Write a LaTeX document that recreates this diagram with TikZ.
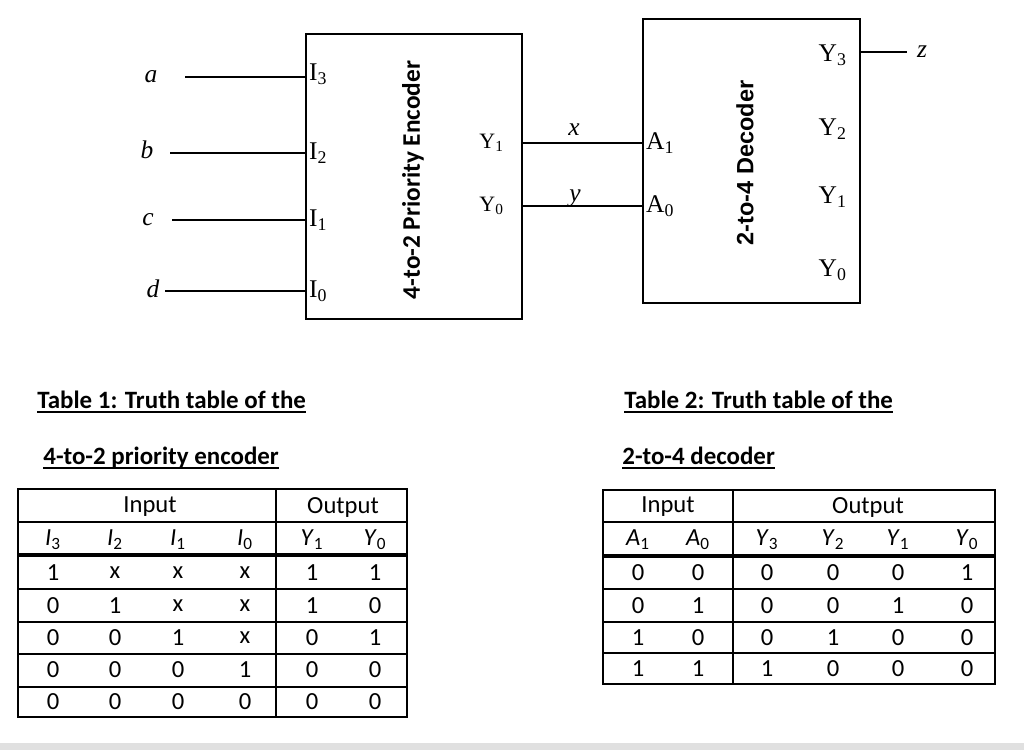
\documentclass[tikz,border=0pt]{standalone}
\usepackage{fontspec}
\setmainfont{Liberation Serif}
\newfontfamily\calibri{Carlito}
\newfontfamily\arialfont{Liberation Sans}
\usepackage{tikz}
\usetikzlibrary{calc}
\usetikzlibrary{positioning}
\definecolor{stripgray}{RGB}{224,224,224}
\tikzstyle{block} = [rectangle, draw=black, line width=1.2pt]
\tikzstyle{wire} = [-, draw=black, line width=1.1pt]
\tikzstyle{pin} = [font=\fontsize{14.5}{16}\selectfont, inner sep=1pt]
\tikzstyle{smallpin} = [font=\fontsize{12.5}{14}\selectfont, inner sep=1pt]
\tikzstyle{sig} = [font=\fontsize{14.5}{16}\selectfont\itshape, inner sep=0pt]
\tikzstyle{cell} = [font=\calibri\fontsize{14}{16}\selectfont, inner sep=0pt]
\tikzstyle{title} = [font=\calibri\bfseries\fontsize{14.2}{16}\selectfont, inner sep=0pt, anchor=base west]
\tikzstyle{uline} = [-, draw=black, line width=1.1pt]
\tikzstyle{grid} = [-, draw=black, line width=0.7pt]
\tikzstyle{thickgrid} = [-, draw=black, line width=1.9pt]

\begin{document}
\begin{tikzpicture}[x=0.02cm, y=-0.02cm]
\useasboundingbox (0,0) rectangle (1024,750);
\fill [stripgray] (0,743) rectangle (1024,750);

% the two blocks
\node [block, minimum width=4.32cm, minimum height=5.7cm] (enc) at (414,176.5) {};
\node [rotate=90, font=\calibri\bfseries\fontsize{14.4}{16}\selectfont] (enclab) at (413,180) {4-to-2 Priority Encoder};
\node [block, minimum width=4.34cm, minimum height=5.68cm] (dec) at (751.5,161) {};
\node [rotate=90, font=\arialfont\bfseries\fontsize{13.4}{16}\selectfont] (declab) at (745,163) {2-to-4 Decoder};

% encoder inputs
\foreach \k/\y in {3/74, 2/153, 1/220, 0/291}
  \node [pin, anchor=west] (i\k) at (307,\y) {I\textsubscript{\k}};
\node [sig] (a) at (151,77) {a};
\node [sig] (b) at (147,150) {b};
\node [sig] (c) at (148,220) {c};
\node [sig] (d) at (153,289) {d};
\foreach \s/\xs/\y in {a/185/77, b/170/153, c/172/220, d/165/291} {
  \coordinate (in\s) at (\xs,\y);
  \draw [wire] (in\s) -- (enc.west |- in\s);
}

% encoder outputs
\node [smallpin, anchor=east] (eY1) at (506,143) {Y\textsubscript{1}};
\node [smallpin, anchor=east] (eY0) at (506,206) {Y\textsubscript{0}};

% decoder pins
\node [pin, anchor=west] (dA1) at (644,143) {A\textsubscript{1}};
\node [pin, anchor=west] (dA0) at (644,206) {A\textsubscript{0}};
\foreach \k/\y in {3/55, 2/129, 1/197, 0/270}
  \node [pin, anchor=east] (dY\k) at (849,\y) {Y\textsubscript{\k}};

% links
\draw [wire] (enc.east |- eY1) -- (dec.west |- eY1);
\draw [wire] (enc.east |- eY0) -- (dec.west |- eY0);
\node [sig] (xl) at (574,130) {x};
\node [sig] (yl) at (575,198) {y};
\coordinate (zend) at (907,52);
\draw [wire] (dec.east |- zend) -- (zend);
\node [sig] (zl) at (922,52) {z};

% titles
\node [title] (t1a) at (37,408) {Table 1: Truth table of the};
\node [title] (t1b) at (43,464) {4-to-2 priority encoder};
\node [title] (t2a) at (624,408) {Table 2: Truth table of the};
\node [title] (t2b) at (622,464) {2-to-4 decoder};
\foreach \t in {t1a, t1b, t2a, t2b}
  \draw [uline] ([yshift=-2.4pt]\t.base west) -- ([yshift=-2.4pt]\t.base east);

% table 1
\draw [grid] (18,489) rectangle (407,717);
\draw [grid] (18,522) -- (407,522);
\draw [thickgrid] (18,555) -- (407,555);
\foreach \y in {589, 622, 654, 687}
  \draw [grid] (18,\y) -- (407,\y);
\draw [grid] (276,489) -- (276,717);
\node [cell] (t1in) at (150,507) {Input};
\node [cell] (t1out) at (343,507) {Output};
\foreach \x/\l/\k in {53/I/3, 115/I/2, 178/I/1, 245/I/0, 312/Y/1, 375/Y/0}
  \node [cell] (t1h\l\k) at (\x,540) {\textit{\l}\textsubscript{\k}};
\foreach \y/\p/\q/\r/\s/\u/\v in {573/1/x/x/x/1/1, 606/0/1/x/x/1/0, 638/0/0/1/x/0/1, 670/0/0/0/1/0/0, 702/0/0/0/0/0/0} {
  \node [cell] (t1-\y-a) at (53,\y) {\p};
  \node [cell] (t1-\y-b) at (115,\y) {\q};
  \node [cell] (t1-\y-c) at (178,\y) {\r};
  \node [cell] (t1-\y-d) at (245,\y) {\s};
  \node [cell] (t1-\y-e) at (312,\y) {\u};
  \node [cell] (t1-\y-f) at (375,\y) {\v};
}

% table 2
\draw [grid] (603,490) rectangle (995,684);
\draw [grid] (603,522) -- (995,522);
\draw [thickgrid] (603,556) -- (995,556);
\foreach \y in {589, 622, 653}
  \draw [grid] (603,\y) -- (995,\y);
\draw [grid] (733,490) -- (733,684);
\node [cell] (t2in) at (668,507) {Input};
\node [cell] (t2out) at (868,507) {Output};
\foreach \x/\l/\k in {638/A/1, 698/A/0, 767/Y/3, 833/Y/2, 898/Y/1, 967/Y/0}
  \node [cell] (t2h\l\k) at (\x,540) {\textit{\l}\textsubscript{\k}};
\foreach \y/\p/\q/\r/\s/\u/\v in {573/0/0/0/0/0/1, 606/0/1/0/0/1/0, 638/1/0/0/1/0/0, 669/1/1/1/0/0/0} {
  \node [cell] (t2-\y-a) at (638,\y) {\p};
  \node [cell] (t2-\y-b) at (698,\y) {\q};
  \node [cell] (t2-\y-c) at (767,\y) {\r};
  \node [cell] (t2-\y-d) at (833,\y) {\s};
  \node [cell] (t2-\y-e) at (898,\y) {\u};
  \node [cell] (t2-\y-f) at (967,\y) {\v};
}
\end{tikzpicture}
\end{document}
